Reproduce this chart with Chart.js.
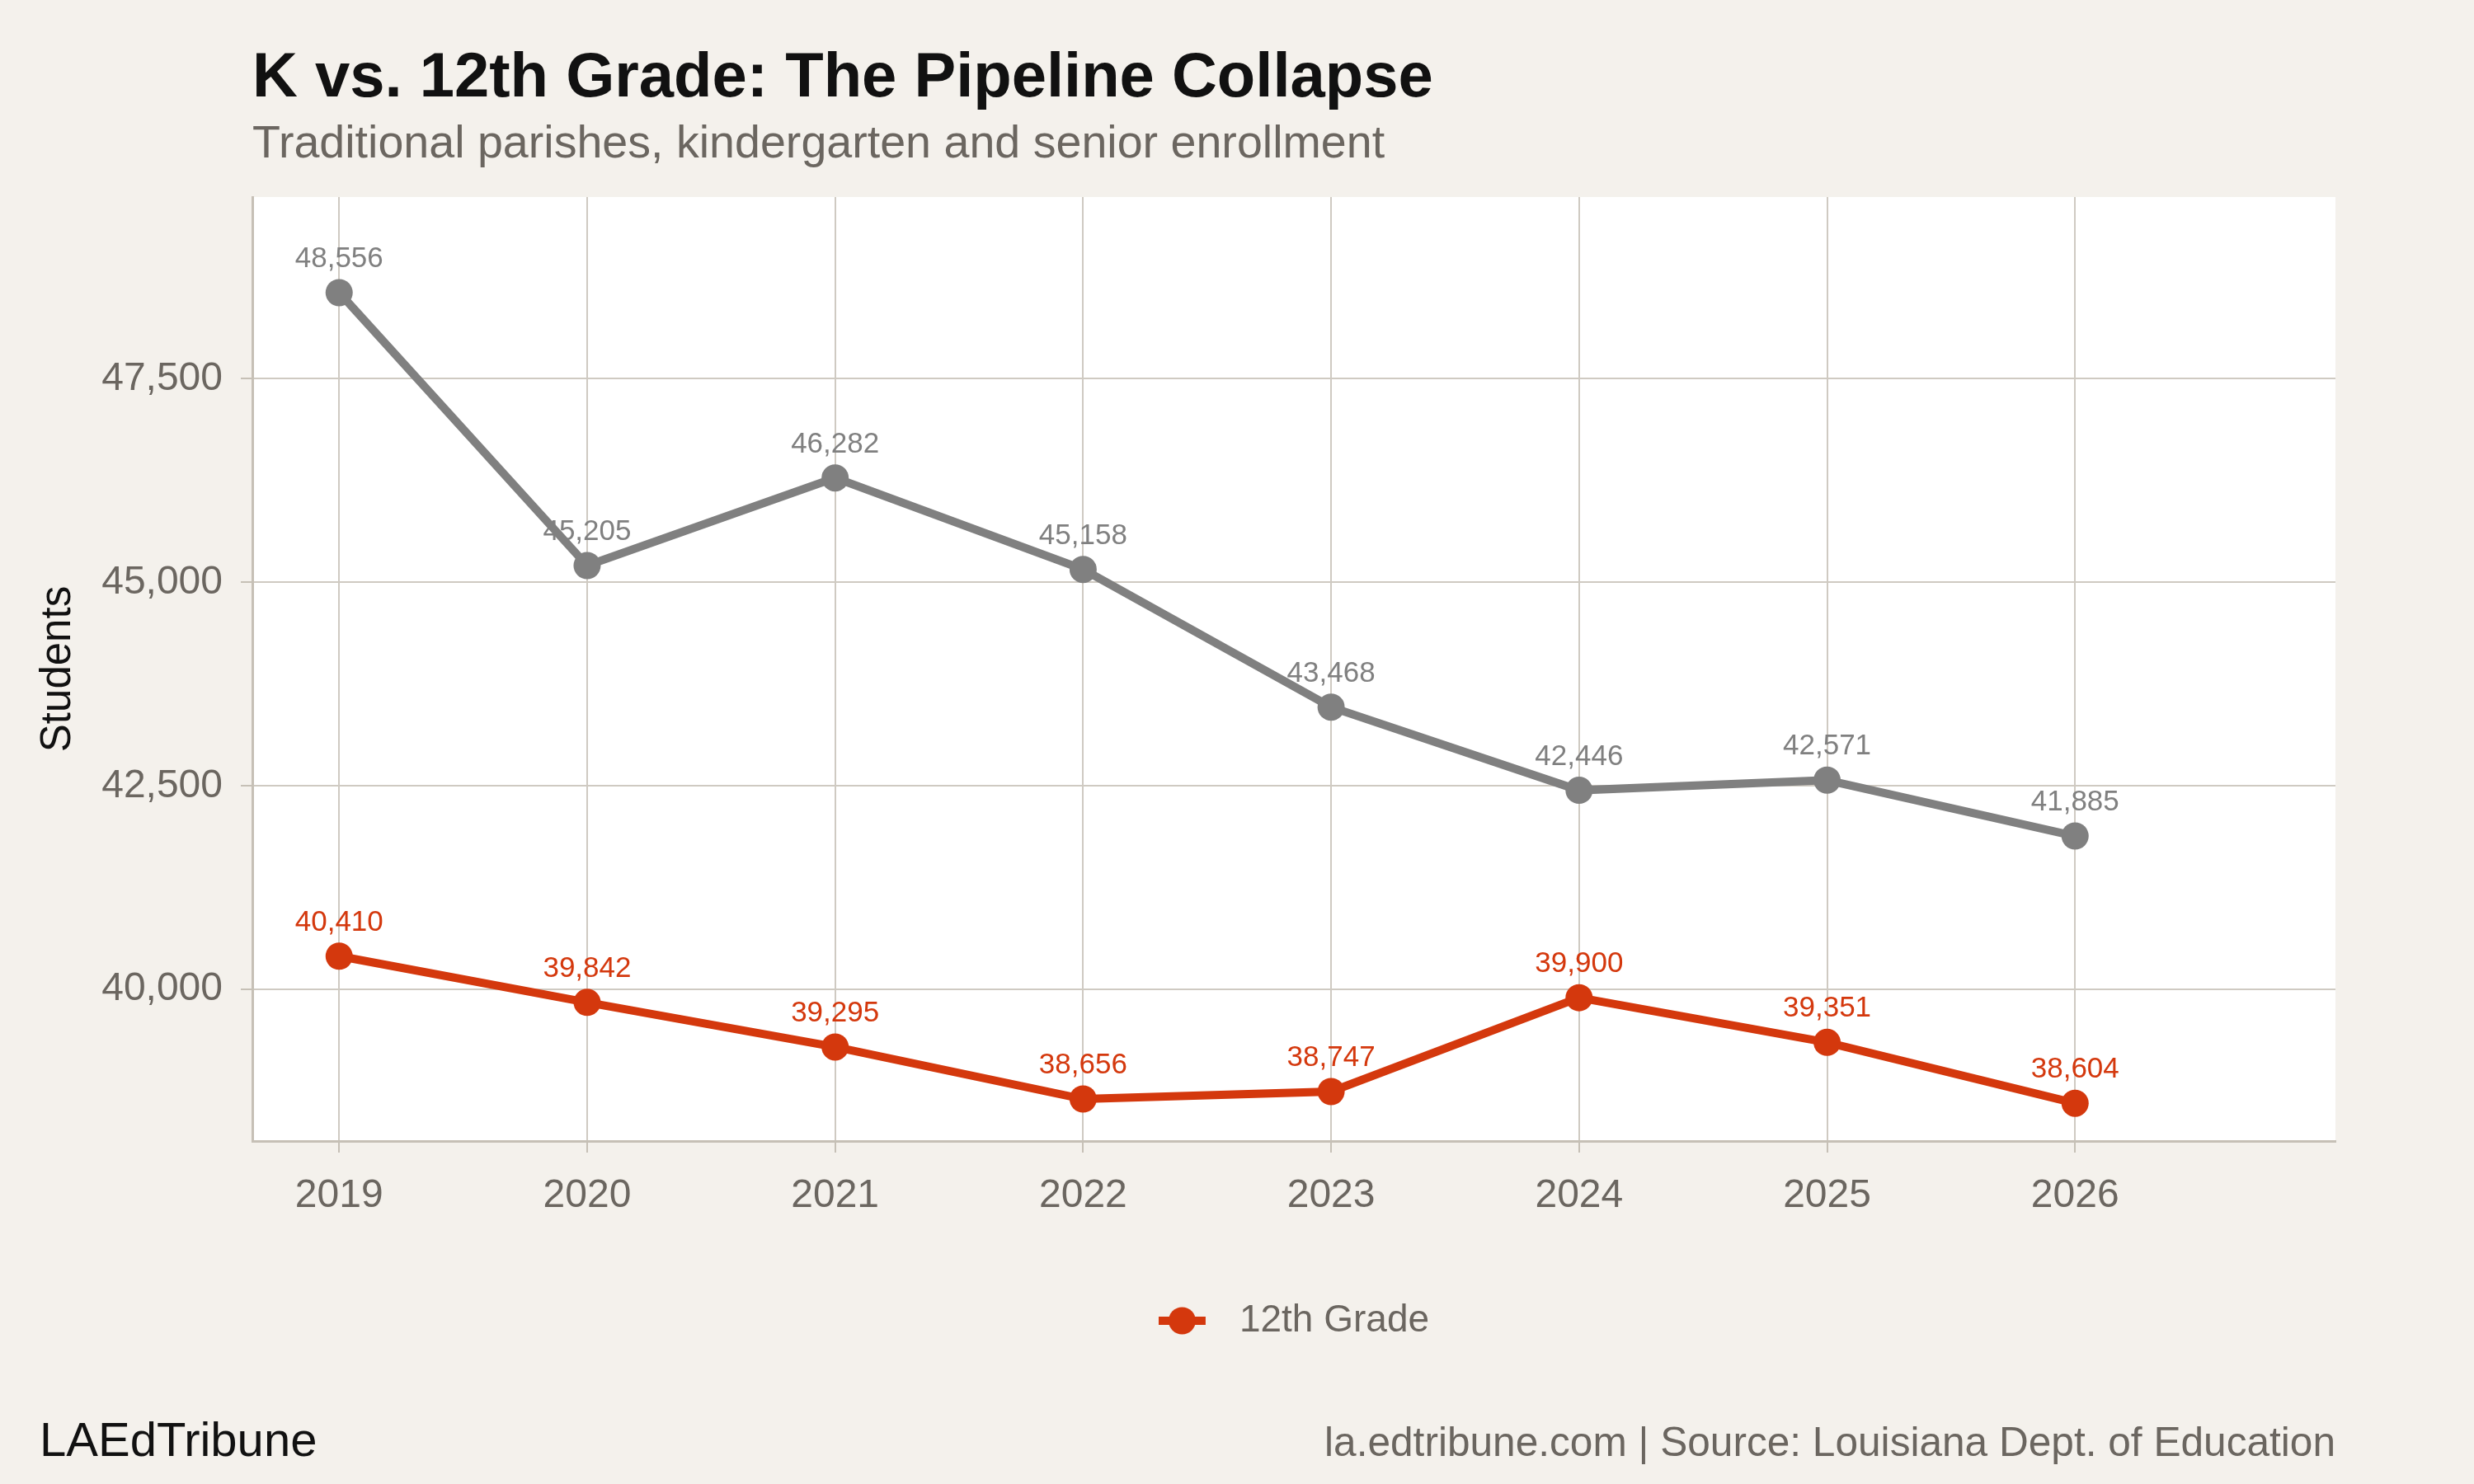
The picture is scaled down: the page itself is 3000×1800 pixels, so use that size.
<!DOCTYPE html>
<html>
<head>
<meta charset="utf-8">
<script src="https://cdn.jsdelivr.net/npm/chart.js@4.4.1/dist/chart.umd.min.js"></script>
<style>
  html, body { margin: 0; padding: 0; background: #f4f1ec; }
  canvas { display: block; }
</style>
</head>
<body>
<canvas id="chart" width="3000" height="1800"></canvas>
<script>
// === DATOS ===
const years = [2019, 2020, 2021, 2022, 2023, 2024, 2025, 2026];
const kindergarten = [48556, 45205, 46282, 45158, 43468, 42446, 42571, 41885];
const twelfthGrade = [40410, 39842, 39295, 38656, 38747, 39900, 39351, 38604];
const yTicks = [40000, 42500, 45000, 47500];

const seriesNames = ["Kindergarten", "12th Grade"];

// === ESTILOS ===
const BG = "#f4f1ec";
const GRAY = "#808080";
const RED = "#d4380d";
const TEXT_GRAY = "#6b6660";
const GRID = "#cfcac2";
const AXIS = "#c6c0b6";
const FONT = "'Liberation Sans', Arial, Helvetica, sans-serif";

const fmt = v => v.toLocaleString("en-US");

// marcador de la leyenda: línea con punto
const legendMarker = document.createElement("canvas");
legendMarker.width = 75;
legendMarker.height = 34;
(function () {
    const c = legendMarker.getContext("2d");
    c.fillStyle = RED;
    c.fillRect(0, 12, 57, 10);
    c.beginPath();
    c.arc(28.5, 17, 16.5, 0, Math.PI * 2);
    c.fill();
})();

// === PLUGINS ===
const fondo = {
    id: "fondo",
    beforeDraw(chart) {
        const { ctx, chartArea: a } = chart;
        ctx.save();
        ctx.fillStyle = BG;
        ctx.fillRect(0, 0, chart.width, chart.height);
        ctx.fillStyle = "#ffffff";
        ctx.fillRect(a.left, a.top, a.right - a.left, a.bottom - a.top);
        ctx.restore();
    }
};

const etiquetas = {
    id: "etiquetas",
    afterDatasetsDraw(chart) {
        const { ctx } = chart;
        ctx.save();
        ctx.font = "35px " + FONT;
        ctx.textAlign = "center";
        ctx.textBaseline = "alphabetic";
        chart.data.datasets.forEach((ds, i) => {
            const meta = chart.getDatasetMeta(i);
            ctx.fillStyle = ds.borderColor;
            meta.data.forEach((pt, j) => {
                ctx.fillText(fmt(ds.data[j].y), pt.x, pt.y - 31);
            });
        });
        ctx.restore();
    }
};

const textos = {
    id: "textos",
    afterDraw(chart) {
        const { ctx } = chart;
        ctx.save();
        ctx.textBaseline = "alphabetic";
        ctx.textAlign = "left";
        ctx.fillStyle = "#111111";
        ctx.font = "bold 76px " + FONT;
        ctx.fillText("K vs. 12th Grade: The Pipeline Collapse", 306, 117);
        ctx.fillStyle = TEXT_GRAY;
        ctx.font = "55.6px " + FONT;
        ctx.fillText("Traditional parishes, kindergarten and senior enrollment", 306, 191);

        ctx.fillStyle = "#111111";
        ctx.font = "58px " + FONT;
        ctx.fillText("LAEdTribune", 48, 1766);
        ctx.textAlign = "right";
        ctx.fillStyle = TEXT_GRAY;
        ctx.font = "49.6px " + FONT;
        ctx.fillText("la.edtribune.com | Source: Louisiana Dept. of Education", 2832, 1766);
        ctx.restore();
    }
};

// === GRÁFICO ===
const ctx = document.getElementById("chart").getContext("2d");
new Chart(ctx, {
    type: "line",
    data: {
        datasets: [
            {
                label: seriesNames[0],
                data: years.map((y, i) => ({ x: y, y: kindergarten[i] })),
                borderColor: GRAY,
                backgroundColor: GRAY,
                pointBackgroundColor: GRAY,
                borderWidth: 10,
                pointRadius: 16.5,
                pointBorderWidth: 0,
                tension: 0
            },
            {
                label: seriesNames[1],
                data: years.map((y, i) => ({ x: y, y: twelfthGrade[i] })),
                borderColor: RED,
                backgroundColor: RED,
                pointBackgroundColor: RED,
                borderWidth: 10,
                pointRadius: 16.5,
                pointBorderWidth: 0,
                tension: 0
            }
        ]
    },
    options: {
        responsive: false,
        devicePixelRatio: 1,
        animation: false,
        events: [],
        layout: { padding: { left: 0, right: 168, top: 239, bottom: 165 } },
        scales: {
            x: {
                type: "linear",
                min: 2018.65,
                max: 2027.05,
                afterBuildTicks: s => { s.ticks = years.map(v => ({ value: v })); },
                afterFit: s => { s.height = 185; },
                ticks: {
                    color: TEXT_GRAY,
                    font: { family: FONT, size: 48 },
                    padding: 24,
                    maxRotation: 0,
                    autoSkip: false,
                    callback: v => String(v)
                },
                grid: { color: GRID, lineWidth: 2, tickLength: 14, tickColor: AXIS },
                border: { color: AXIS, width: 3 }
            },
            y: {
                min: 38140,
                max: 49730,
                afterBuildTicks: s => { s.ticks = yTicks.map(v => ({ value: v })); },
                afterFit: s => { s.width = 306; },
                ticks: {
                    color: TEXT_GRAY,
                    font: { family: FONT, size: 48 },
                    padding: 22,
                    callback: v => fmt(v)
                },
                grid: { color: GRID, lineWidth: 2, tickLength: 14, tickColor: AXIS },
                border: { color: AXIS, width: 3 },
                title: {
                    display: true,
                    text: "Students",
                    color: "#111111",
                    font: { family: FONT, size: 51 },
                    padding: { top: 40, bottom: 0 }
                }
            }
        },
        plugins: {
            legend: {
                position: "bottom",
                fullSize: false,
                labels: {
                    usePointStyle: true,
                    pointStyle: legendMarker,
                    pointStyleWidth: 75,
                    color: TEXT_GRAY,
                    font: { family: FONT, size: 46 },
                    padding: 10,
                    filter: item => item.text === seriesNames[1]
                }
            },
            tooltip: { enabled: false }
        }
    },
    plugins: [fondo, etiquetas, textos]
});
</script>
</body>
</html>
